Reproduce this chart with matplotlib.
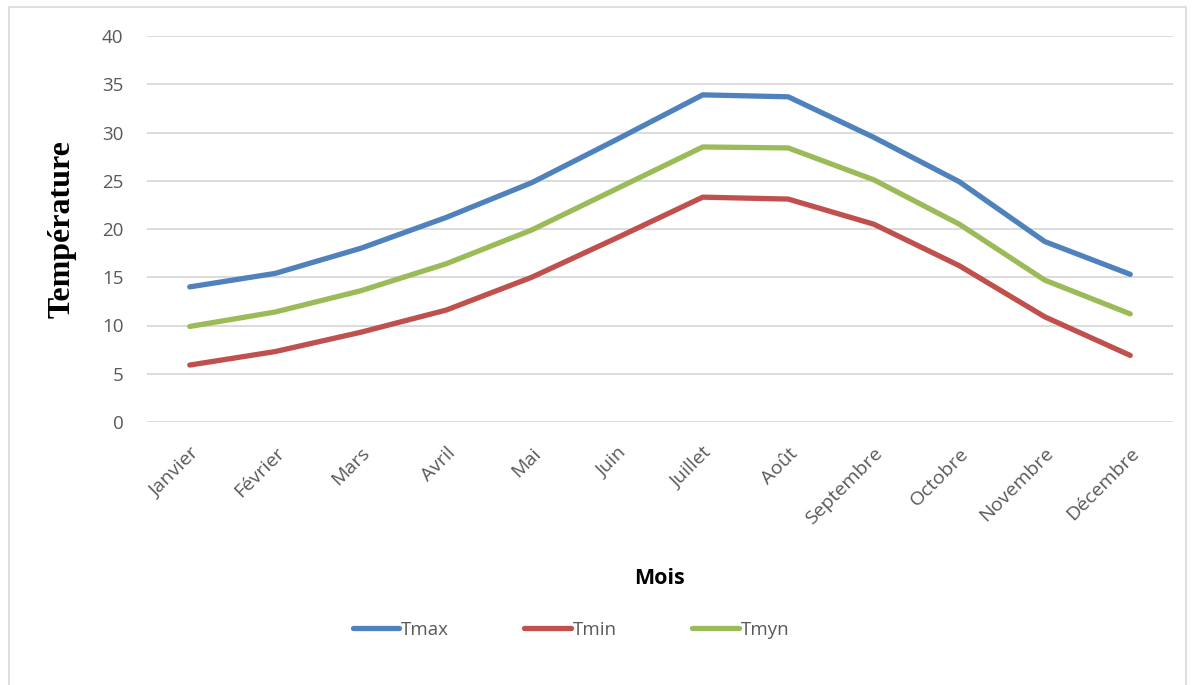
import matplotlib.pyplot as plt
from matplotlib.patches import Rectangle

mois = ['Janvier', 'Février', 'Mars', 'Avril', 'Mai', 'Juin', 'Juillet',
        'Août', 'Septembre', 'Octobre', 'Novembre', 'Décembre']
tmax = [14.0, 15.4, 18.0, 21.2, 24.8, 29.3, 33.9, 33.7, 29.5, 24.9, 18.7, 15.3]
tmin = [5.9, 7.3, 9.3, 11.6, 15.0, 19.1, 23.3, 23.1, 20.5, 16.2, 10.9, 6.9]
tmyn = [9.9, 11.4, 13.6, 16.4, 19.9, 24.2, 28.5, 28.4, 25.1, 20.5, 14.7, 11.2]

plt.rcParams['font.family'] = ['Open Sans', 'DejaVu Sans']

fig = plt.figure(figsize=(11.93, 6.85), dpi=100)
ax = fig.add_axes([147/1193, 263/685, 1026/1193, 386/685])

x = range(len(mois))
ax.plot(x, tmax, color='#4F81BD', lw=3.8, solid_capstyle='round', solid_joinstyle='round', label='Tmax')
ax.plot(x, tmin, color='#C0504D', lw=3.8, solid_capstyle='round', solid_joinstyle='round', label='Tmin')
ax.plot(x, tmyn, color='#9BBB59', lw=3.8, solid_capstyle='round', solid_joinstyle='round', label='Tmyn')

ax.set_xlim(-0.5, 11.5)
ax.set_ylim(0, 40)
ax.set_yticks(range(0, 41, 5))
ax.grid(axis='y', color='#D9D9D9', lw=1.3)
ax.set_axisbelow(True)
for s in ax.spines.values():
    s.set_visible(False)

ax.set_xticks(list(x))
ax.set_xticklabels(mois, rotation=45, ha='right', rotation_mode='anchor')
ax.tick_params(axis='both', length=0, labelcolor='#595959')
ax.tick_params(axis='y', pad=17, labelsize=13.5)
ax.tick_params(axis='x', pad=16, labelsize=14)

ax.set_ylabel('Température', fontsize=23, fontweight='bold',
              family='Liberation Serif', labelpad=18)
fig.text(660/1193, 1 - 578/685, 'Mois', ha='center', va='center',
         fontsize=15.5, fontweight='bold')

fig.legend(loc='center', bbox_to_anchor=(571/1193, 1 - 630/685), ncol=3,
           frameon=False, fontsize=13.5, handlelength=2.5, handletextpad=0.1,
           columnspacing=4.0, labelcolor='#595959')

# cadre gris autour du graphique
fig.patches.append(Rectangle((9/1193, -0.01), 1177/1193, 1 - 7/685 + 0.01,
                             transform=fig.transFigure, fill=False,
                             edgecolor='#D9D9D9', lw=1.2))

fig.savefig('out.png', dpi=100)
